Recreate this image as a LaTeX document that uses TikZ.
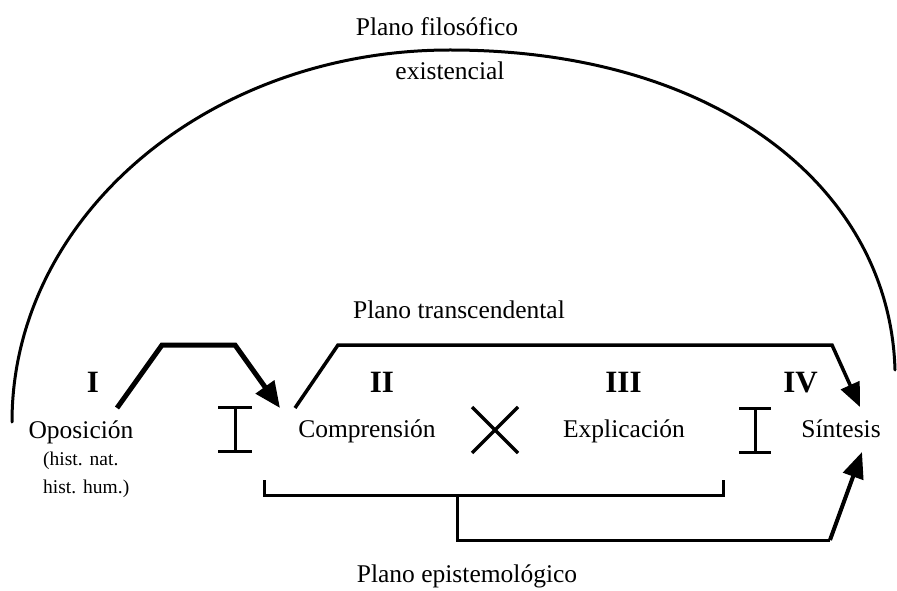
\documentclass[tikz,border=0pt]{standalone}
\usepackage{fontspec}
\setmainfont{Liberation Serif}
\usetikzlibrary{arrows.meta}
\begin{document}
\begin{tikzpicture}[x=1pt,y=1pt,
  lbl/.style={inner sep=0pt,anchor=base,font=\fontsize{25.5}{30}\selectfont},
  num/.style={inner sep=0pt,anchor=base,font=\fontsize{31}{36}\selectfont\bfseries},
  small/.style={inner sep=0pt,anchor=base west,font=\fontsize{19.5}{24}\selectfont},
  thickarrow/.style={line width=5pt,-{Triangle[length=26pt,width=22pt]}},
  medarrow/.style={line width=3.5pt,-{Triangle[length=24pt,width=20pt]}},
  brack/.style={line width=3pt},
  oppbar/.style={line width=3pt}
]
\useasboundingbox (0,0) rectangle (897,590);
% texts
\node[lbl] (filo) at (437,554) {Plano filosófico};
\node[lbl] (exis) at (450,510) {existencial};
\node[lbl] (trans) at (459,272) {Plano transcendental};
\node[lbl] (epis) at (467,8) {Plano epistemológico};
\node[num] (nI) at (93,198) {I};
\node[num] (nII) at (382,198) {II};
\node[num] (nIII) at (623.5,198) {III};
\node[num] (nIV) at (800.5,198) {IV};
\node[lbl] (opo) at (81,152) {Oposición};
\node[small] (hn) at (43,125) {(hist.\hspace{7pt}nat.};
\node[small] (hh) at (43,97) {hist.\hspace{7pt}hum.)};
\node[lbl] (comp) at (367,153) {Comprensión};
\node[lbl] (expl) at (624,153) {Explicación};
\node[lbl] (sint) at (841,153) {Síntesis};
% great arc
\coordinate (arcL) at (12,168);
\coordinate (arcT) at (450,540);
\coordinate (arcR) at (895,220);
\draw[line width=3pt,line cap=round] (arcL) arc[start angle=180,end angle=90,x radius=438pt,y radius=372pt]
  .. controls (720,540) and (890,400) .. (arcR);
% opposition bars
\coordinate (ob1t) at (235,183); \coordinate (ob1b) at (235,139);
\draw[oppbar] (ob1t) -- (ob1b);
\draw[oppbar] ([xshift=-17pt]ob1t) -- ([xshift=17pt]ob1t);
\draw[oppbar] ([xshift=-17pt]ob1b) -- ([xshift=17pt]ob1b);
\coordinate (ob2t) at (755,182); \coordinate (ob2b) at (755,138);
\draw[oppbar] (ob2t) -- (ob2b);
\draw[oppbar] ([xshift=-16pt]ob2t) -- ([xshift=16pt]ob2t);
\draw[oppbar] ([xshift=-16pt]ob2b) -- ([xshift=16pt]ob2b);
% cross
\coordinate (cx) at (495,160);
\draw[line width=3.5pt] ([shift={(-23,23)}]cx) -- ([shift={(23,-23)}]cx);
\draw[line width=3.5pt] ([shift={(-23,-23)}]cx) -- ([shift={(23,23)}]cx);
% arrow I -> II
\coordinate (a1s) at (117,182); \coordinate (a1a) at (162,245);
\coordinate (a1b) at (235,245); \coordinate (a1e) at (280,182);
\draw[thickarrow,line join=miter] (a1s) -- (a1a) -- (a1b) -- (a1e);
% arrow II -> IV
\coordinate (a2s) at (295,182); \coordinate (a2a) at (338,245);
\coordinate (a2b) at (832,245); \coordinate (a2e) at (860,183);
\draw[medarrow,line join=miter] (a2s) -- (a2a) -- (a2b) -- (a2e);
% bracket
\coordinate (bl) at (264,110); \coordinate (blb) at (264,95);
\coordinate (brb) at (723,95); \coordinate (br) at (723,110);
\draw[brack] (bl) -- (blb) -- (brb) -- (br);
\coordinate (dm) at (457,95); \coordinate (dmb) at (457,50);
\coordinate (dr) at (830,50); \coordinate (de) at (862,138);
\draw[brack] (dm) -- (dmb) -- (dr);
\draw[line width=4pt,-{Triangle[length=26pt,width=21pt]}] (dr) -- (de);
\end{tikzpicture}
\end{document}
